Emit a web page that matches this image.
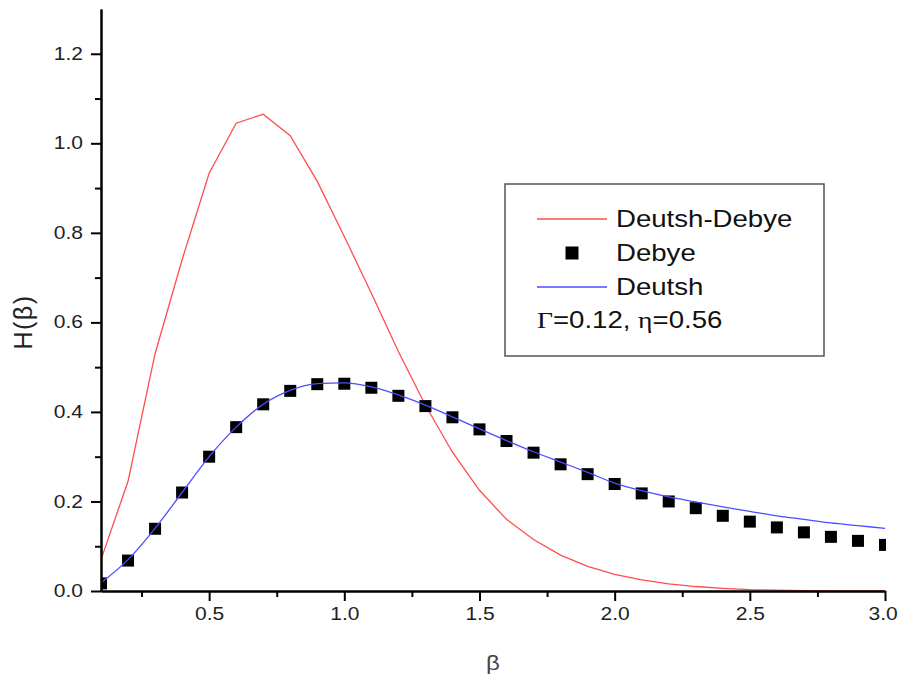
<!DOCTYPE html>
<html>
<head>
<meta charset="utf-8">
<script src="https://cdn.jsdelivr.net/npm/d3@7"></script>
<style>
  body { margin: 0; background: #fff; }
  svg { display: block; font-family: "Liberation Sans", Arial, sans-serif; }
</style>
</head>
<body>
<div class="chart"></div>
<script>
const width = 898,
  height = 682;
const marginLeft = 101,
  marginRight = 13,
  marginTop = 9,
  marginBottom = 91;

// beta values (x) shared by all three series
const betaValues = [
  0.1, 0.2, 0.3, 0.4, 0.5, 0.6, 0.7, 0.8, 0.9, 1.0,
  1.1, 1.2, 1.3, 1.4, 1.5, 1.6, 1.7, 1.8, 1.9, 2.0,
  2.1, 2.2, 2.3, 2.4, 2.5, 2.6, 2.7, 2.8, 2.9, 3.0,
];
// Deutsh-Debye (red line)
const deutshDebye = [
  0.07, 0.245, 0.53, 0.74, 0.933, 1.045, 1.065, 1.017, 0.915, 0.792,
  0.665, 0.535, 0.415, 0.31, 0.225, 0.16, 0.115, 0.08, 0.055, 0.037,
  0.025, 0.016, 0.01, 0.006, 0.003, 0.002, 0.001, 0, 0, 0,
];
// Debye (black squares)
const debye = [
  0.017, 0.068, 0.139, 0.22, 0.3, 0.366, 0.417, 0.447, 0.462, 0.463,
  0.454, 0.436, 0.413, 0.388, 0.361, 0.335, 0.309, 0.283, 0.261, 0.239,
  0.218, 0.2, 0.185, 0.168, 0.155, 0.142, 0.131, 0.121, 0.112, 0.103,
];
// Deutsh (blue line)
const deutsh = [
  0.018, 0.07, 0.14, 0.22, 0.3, 0.366, 0.417, 0.448, 0.463, 0.465,
  0.456, 0.438, 0.415, 0.389, 0.362, 0.336, 0.311, 0.288, 0.265, 0.241,
  0.224, 0.21, 0.199, 0.188, 0.178, 0.168, 0.16, 0.152, 0.146, 0.14,
];

const xMajor = [0.5, 1.0, 1.5, 2.0, 2.5, 3.0];
const xMinor = [0.25, 0.75, 1.25, 1.75, 2.25, 2.75];
const yMajor = [0.0, 0.2, 0.4, 0.6, 0.8, 1.0, 1.2];
const yMinor = [0.1, 0.3, 0.5, 0.7, 0.9, 1.1];

const legendLabels = ["Deutsh-Debye", "Debye", "Deutsh"];
const legendColors = ["#ff4d4d", "#000000", "#4d4dff"];

const stretch = "scale(1.2,1)";

const svg = d3
  .select(".chart")
  .append("svg")
  .attr("width", width)
  .attr("height", height);

const xScale = d3
  .scaleLinear()
  .domain([0.1, 3.0])
  .range([marginLeft, width - marginRight]);

const yScale = d3
  .scaleLinear()
  .domain([0, 1.3])
  .range([height - marginBottom, marginTop]);

const rows = betaValues.map((b, i) => ({
  b,
  red: deutshDebye[i],
  sq: debye[i],
  blue: deutsh[i],
}));

// clip so the edge squares are cut at the axes
svg
  .append("clipPath")
  .attr("id", "plot-clip")
  .append("rect")
  .attr("x", marginLeft)
  .attr("y", 0)
  .attr("width", xScale(3.0) - marginLeft + 1)
  .attr("height", height - marginBottom);

const plot = svg.append("g").attr("clip-path", "url(#plot-clip)");

const line = (key) =>
  d3
    .line()
    .x((d) => xScale(d.b))
    .y((d) => yScale(d[key]));

plot
  .append("path")
  .datum(rows)
  .attr("fill", "none")
  .attr("stroke", legendColors[0])
  .attr("stroke-width", 1.3)
  .attr("d", line("red"));

plot
  .selectAll("rect.sq")
  .data(rows)
  .enter()
  .append("rect")
  .attr("class", "sq")
  .attr("x", (d) => xScale(d.b) - 6)
  .attr("y", (d) => yScale(d.sq) - 6)
  .attr("width", 12)
  .attr("height", 12)
  .attr("fill", "#000");

plot
  .append("path")
  .datum(rows)
  .attr("fill", "none")
  .attr("stroke", legendColors[2])
  .attr("stroke-width", 1.3)
  .attr("d", line("blue").curve(d3.curveMonotoneX));

// axes
const styleAxis = (g) => {
  g.select(".domain").attr("stroke", "#000").attr("stroke-width", 2);
  g.selectAll(".tick line").attr("stroke", "#000").attr("stroke-width", 2);
  g.selectAll(".tick text")
    .attr("fill", "#222")
    .attr("font-size", "17.5px")
    .attr("font-family", '"Liberation Sans", Arial, sans-serif')
    .attr("transform", stretch);
};

const xAxisG = svg
  .append("g")
  .attr("transform", `translate(0,${height - marginBottom})`);
xAxisG
  .append("g")
  .call(
    d3
      .axisBottom(xScale)
      .tickValues(xMajor)
      .tickSize(10)
      .tickSizeOuter(0)
      .tickPadding(7)
      .tickFormat(d3.format(".1f"))
  )
  .call(styleAxis)
  // keep the last label inside the page
  .call((g) => g.selectAll(".tick:last-of-type text").attr("dx", -2));
xAxisG
  .append("g")
  .call(
    d3
      .axisBottom(xScale)
      .tickValues(xMinor)
      .tickSize(6)
      .tickSizeOuter(0)
      .tickFormat("")
  )
  .call(styleAxis);

const yAxisG = svg.append("g").attr("transform", `translate(${marginLeft},0)`);
yAxisG
  .append("g")
  .call(
    d3
      .axisLeft(yScale)
      .tickValues(yMajor)
      .tickSize(10)
      .tickSizeOuter(0)
      .tickPadding(5)
      .tickFormat(d3.format(".1f"))
  )
  .call(styleAxis);
yAxisG
  .append("g")
  .call(
    d3
      .axisLeft(yScale)
      .tickValues(yMinor)
      .tickSize(6)
      .tickSizeOuter(0)
      .tickFormat("")
  )
  .call(styleAxis);

// axis titles
svg
  .append("text")
  .attr("transform", `translate(${(xScale(0.1) + xScale(3.0)) / 2},670) ${stretch}`)
  .attr("text-anchor", "middle")
  .attr("font-size", "20px")
  .attr("fill", "#444")
  .text("β");

svg
  .append("text")
  .attr("transform", "translate(32,322) rotate(-90)")
  .attr("text-anchor", "middle")
  .attr("font-size", "25px")
  .attr("letter-spacing", "1.5px")
  .attr("fill", "#222")
  .text("H(β)");

// legend
const legend = svg.append("g");
legend
  .append("rect")
  .attr("x", 505)
  .attr("y", 184)
  .attr("width", 319)
  .attr("height", 172)
  .attr("fill", "#fff")
  .attr("stroke", "#555")
  .attr("stroke-width", 1.5);

const rowY = [219, 253, 287];
legendLabels.forEach((label, i) => {
  if (i === 1) {
    legend
      .append("rect")
      .attr("x", 572 - 6.5)
      .attr("y", rowY[i] - 6.5)
      .attr("width", 13)
      .attr("height", 13)
      .attr("fill", legendColors[i]);
  } else {
    legend
      .append("line")
      .attr("x1", 537)
      .attr("x2", 607)
      .attr("y1", rowY[i])
      .attr("y2", rowY[i])
      .attr("stroke", legendColors[i])
      .attr("stroke-width", 1.3);
  }
  legend
    .append("text")
    .attr("transform", `translate(616,${rowY[i] + 8}) ${stretch}`)
    .attr("font-size", "23px")
    .attr("fill", "#111")
    .text(label);
});

const param = legend
  .append("text")
  .attr("transform", `translate(537,328) ${stretch}`)
  .attr("font-size", "23px")
  .attr("fill", "#111");
param.append("tspan").attr("font-family", '"Liberation Serif", serif').text("Γ");
param.append("tspan").text("=0.12, ");
param.append("tspan").attr("font-family", '"Liberation Serif", serif').text("η");
param.append("tspan").text("=0.56");
</script>
</body>
</html>
